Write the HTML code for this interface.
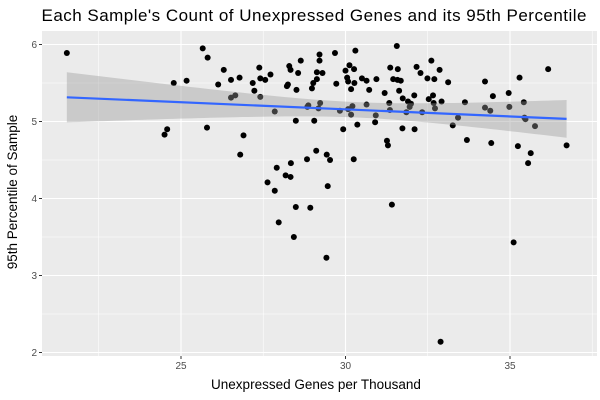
<!DOCTYPE html>
<html><head><meta charset="utf-8"><style>
html,body{margin:0;padding:0;background:#fff;}
svg{display:block;font-family:"Liberation Sans",Arial,sans-serif;}
</style></head><body>
<svg id="chart" width="600" height="400">
<rect x="0" y="0" width="600" height="400" fill="#fff"/>
<text x="314" y="21" font-size="17" text-anchor="middle" textLength="545" fill="#000">Each Sample's Count of Unexpressed Genes and its 95th Percentile</text>
<g id="panel"></g>
<text x="316" y="389" font-size="13.5" text-anchor="middle" fill="#000">Unexpressed Genes per Thousand</text>
<text transform="translate(17,192) rotate(-90)" font-size="13.5" text-anchor="middle" fill="#000">95th Percentile of Sample</text>
</svg>
<script>
const xVals=[21.53,25.66,25.81,26.30,26.52,26.78,26.13,24.78,25.17,26.52,26.65,24.58,24.50,25.79,26.80,26.90,27.18,27.23,27.38,27.41,27.56,27.72,27.41,27.85,28.29,28.33,28.22,28.25,28.64,28.56,28.51,28.49,29.21,29.21,29.13,29.30,29.13,29.02,28.98,28.87,28.84,29.18,29.23,29.05,29.68,29.72,30.00,30.12,30.26,30.05,30.08,30.30,30.27,30.17,29.83,30.08,30.21,30.17,29.93,30.36,30.50,30.64,30.94,30.72,30.64,30.92,30.90,31.19,31.33,31.35,31.26,31.29,31.36,31.59,31.56,31.45,31.58,31.68,31.63,31.74,31.90,31.99,31.95,31.85,32.09,32.16,31.73,32.10,27.91,28.34,28.83,29.11,29.43,29.53,30.25,27.63,27.85,28.18,28.33,28.49,27.97,28.43,28.93,29.46,29.42,31.41,32.89,35.11,35.55,35.63,32.28,32.61,32.49,32.70,32.86,33.12,32.53,32.66,32.68,32.72,32.92,32.33,33.42,33.26,33.63,33.69,34.24,34.48,34.24,34.40,34.43,34.96,35.29,34.98,35.42,35.44,35.47,35.76,35.24,36.16,36.72];
const yVals=[5.89,5.95,5.83,5.67,5.54,5.57,5.48,5.50,5.53,5.31,5.34,4.90,4.83,4.92,4.57,4.82,5.50,5.40,5.70,5.56,5.54,5.61,5.32,5.13,5.72,5.67,5.46,5.48,5.79,5.63,5.41,5.01,5.87,5.79,5.64,5.63,5.55,5.50,5.43,5.21,5.19,5.17,5.24,5.01,5.89,5.49,5.66,5.73,5.68,5.57,5.52,5.92,5.50,5.42,5.14,5.16,5.20,5.09,4.90,4.96,5.56,5.53,5.55,5.41,5.22,5.08,4.99,5.37,5.24,5.15,4.75,4.69,5.70,5.68,5.98,5.55,5.54,5.53,5.40,5.30,5.26,5.23,5.19,5.12,5.34,5.71,4.91,4.90,4.40,4.46,4.51,4.62,4.57,4.50,4.51,4.21,4.10,4.30,4.28,3.89,3.69,3.50,3.88,4.16,3.23,3.92,2.14,3.43,4.46,4.59,5.63,5.79,5.56,5.55,5.67,5.51,5.29,5.34,5.24,5.17,5.26,5.12,5.05,4.95,5.25,4.76,5.52,5.33,5.18,5.14,4.72,5.37,5.57,5.19,5.25,5.05,5.03,4.94,4.68,5.68,4.69];
const xTicks=[25,30,35];
const yTicks=[2,3,4,5,6];
const xMinor=[22.5,27.5,32.5,37.5];
const yMinor=[2.5,3.5,4.5,5.5];

const NS="http://www.w3.org/2000/svg";
const PL=42,PR=597,PT=31,PB=356;
function sx(v){return 181+(v-25)*32.9;}
function sy(v){return 44.5+(6-v)*77;}
const panel=document.getElementById('panel');
const svg=document.getElementById('chart');
function mk(tag,attrs,parent){const e=document.createElementNS(NS,tag);for(const k in attrs)e.setAttribute(k,attrs[k]);(parent||panel).appendChild(e);return e;}

const bg=mk('rect',{x:PL,y:PT,width:PR-PL,height:PB-PT,fill:'#EBEBEB'});


xMinor.forEach(v=>{if(sx(v)>PR)return;const l=mk('line',{x1:sx(v),x2:sx(v),y1:PT,y2:PB,stroke:'#fff','stroke-width':0.55});

});
yMinor.forEach(v=>{const l=mk('line',{x1:PL,x2:PR,y1:sy(v),y2:sy(v),stroke:'#fff','stroke-width':0.55});

});
xTicks.forEach(v=>{const l=mk('line',{x1:sx(v),x2:sx(v),y1:PT,y2:PB,stroke:'#fff','stroke-width':1.1});


const t=mk('line',{x1:sx(v),x2:sx(v),y1:PB,y2:PB+3,stroke:'#333','stroke-width':1},svg);


const tx=mk('text',{x:sx(v),y:PB+13,'font-size':10,'text-anchor':'middle',fill:'#4D4D4D'},svg);tx.textContent=v;

});
yTicks.forEach(v=>{const l=mk('line',{x1:PL,x2:PR,y1:sy(v),y2:sy(v),stroke:'#fff','stroke-width':1.1});


const t=mk('line',{x1:PL-3,x2:PL,y1:sy(v),y2:sy(v),stroke:'#333','stroke-width':1},svg);


const tx=mk('text',{x:PL-5,y:sy(v)+3.5,'font-size':10,'text-anchor':'end',fill:'#4D4D4D'},svg);tx.textContent=v;

});

xVals.forEach((x,i)=>{const c=mk('circle',{cx:sx(x),cy:sy(yVals[i]),r:3,fill:'#000'});

});

const n=xVals.length;
const mx=xVals.reduce((a,b)=>a+b,0)/n, my=yVals.reduce((a,b)=>a+b,0)/n;
let sxx=0,sxy=0;for(let i=0;i<n;i++){sxx+=(xVals[i]-mx)**2;sxy+=(xVals[i]-mx)*(yVals[i]-my);}
const b=sxy/sxx,a=my-b*mx;
let sse=0;for(let i=0;i<n;i++){sse+=(yVals[i]-a-b*xVals[i])**2;}
const s=Math.sqrt(sse/(n-2)),tq=1.977;
const xmin=Math.min(...xVals),xmax=Math.max(...xVals);
const up=[],lo=[];
for(let k=0;k<=80;k++){const x=xmin+(xmax-xmin)*k/80;const f=a+b*x;const se=s*Math.sqrt(1/n+(x-mx)**2/sxx);
up.push(sx(x).toFixed(2)+','+sy(f+tq*se).toFixed(2));lo.unshift(sx(x).toFixed(2)+','+sy(f-tq*se).toFixed(2));}
const rib=mk('polygon',{points:up.concat(lo).join(' '),fill:'#999999','fill-opacity':0.4});


const fl=mk('line',{x1:sx(xmin),y1:sy(a+b*xmin),x2:sx(xmax),y2:sy(a+b*xmax),stroke:'#3366FF','stroke-width':2.2});


</script>
</body></html>
